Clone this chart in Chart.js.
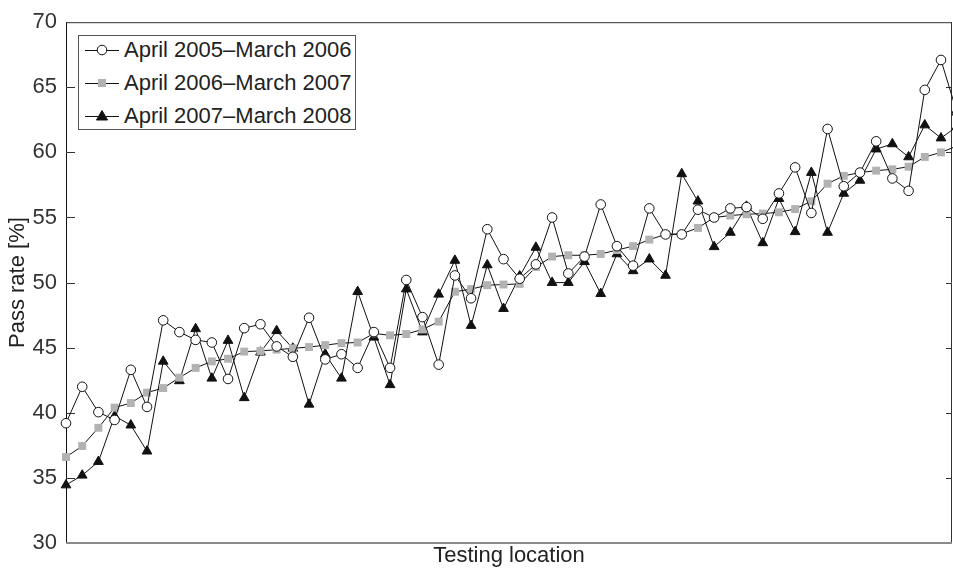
<!DOCTYPE html>
<html>
<head>
<meta charset="utf-8">
<title>Pass rate by testing location</title>
<script src="https://cdn.jsdelivr.net/npm/chart.js@4.4.1/dist/chart.umd.min.js"></script>
<style>
  html, body { margin: 0; padding: 0; background: #fff; overflow: hidden; }
  #wrap { position: relative; width: 953px; height: 569px; }
  #legend {
    position: absolute; left: 78px; top: 35px; width: 278px; height: 95px;
    box-sizing: border-box; border: 1px solid #555; background: #fff;
    font-family: 'Liberation Sans', Arial, sans-serif; font-size: 22px; color: #222;
  }
  #legend .row { position: absolute; left: 0; height: 26px; white-space: nowrap; }
  #legend svg { position: absolute; left: 6px; top: 6px; }
  #legend span { position: absolute; left: 45px; top: 1px; line-height: 24px; }
</style>
</head>
<body>
<div id="wrap">
  <canvas id="passRateChart" width="953" height="569"></canvas>
  <div id="legend"></div>
</div>
<script>
// testing locations along the x axis (index only, no labels are shown)
const locations = Array.from({ length: 56 }, (_, i) => i);

const seriesNames = [
  'April 2005\u2013March 2006',
  'April 2006\u2013March 2007',
  'April 2007\u2013March 2008'
];

// pass rate [%] per testing location
const passRate0506 = [39.2, 42.0, 40.05, 39.45, 43.3, 40.45, 47.1, 46.2, 45.6, 45.4, 42.6, 46.5, 46.8, 45.1,
  44.3, 47.3, 44.1, 44.5, 43.45, 46.2, 43.45, 50.2, 47.35, 43.7, 50.55, 48.8, 54.1, 51.8, 50.3, 51.4,
  55.0, 50.7, 52.0, 56.0, 52.8, 51.3, 55.7, 53.7, 53.7, 55.6, 55.0, 55.7, 55.8, 54.9, 56.85, 58.85,
  55.35, 61.8, 57.4, 58.45, 60.85, 58.0, 57.05, 64.8, 67.1, 63.0];

const passRate0607 = [36.6, 37.45, 38.85, 40.4, 40.75, 41.55, 41.9, 42.7, 43.45, 43.95, 44.15, 44.7, 44.75,
  44.85, 44.95, 45.05, 45.2, 45.35, 45.4, 46.1, 45.95, 46.05, 46.4, 47.0, 49.3, 49.5, 49.8, 49.85, 49.9,
  51.2, 52.0, 52.1, 52.1, 52.2, 52.5, 52.8, 53.3, 53.7, 53.75, 54.2, 55.0, 55.15, 55.25, 55.3, 55.4,
  55.65, 56.25, 57.6, 58.2, 58.45, 58.6, 58.7, 58.9, 59.65, 60.0, 60.5];

const passRate0708 = [34.45, 35.2, 36.25, 39.75, 39.05, 37.05, 43.95, 42.45, 46.45, 42.65, 45.55, 41.15,
  44.65, 46.3, 44.95, 40.65, 44.5, 42.65, 49.3, 45.8, 42.15, 49.5, 46.2, 49.1, 51.7, 46.7, 51.35, 48.0,
  50.5, 52.7, 50.0, 50.0, 51.6, 49.15, 52.2, 50.9, 51.8, 50.55, 58.35, 56.25, 52.75, 53.85, 55.85,
  53.05, 56.45, 53.9, 58.45, 53.85, 56.85, 57.85, 60.25, 60.65, 59.65, 62.1, 61.1, 62.0];

const yTicks = [30, 35, 40, 45, 50, 55, 60, 65, 70];

Chart.defaults.font.family = "'Liberation Sans', Arial, sans-serif";
Chart.defaults.font.size = 22;
Chart.defaults.color = '#333';

function toPoints(values) {
  return values.map((v, i) => ({ x: locations[i], y: v }));
}

// frame on top/right, grey base line and short inward ticks on both sides
const framePlugin = {
  id: 'frame',
  beforeDatasetsDraw(chart) {
    const { ctx, chartArea: a, scales: { y } } = chart;
    ctx.save();
    ctx.strokeStyle = '#333';
    ctx.lineWidth = 1;
    ctx.beginPath();
    ctx.moveTo(a.left, a.top + 0.5);
    ctx.lineTo(a.right, a.top + 0.5);
    ctx.moveTo(a.right - 0.5, a.top);
    ctx.lineTo(a.right - 0.5, a.bottom);
    yTicks.slice(1, -1).forEach(v => {
      const py = Math.round(y.getPixelForValue(v)) + 0.5;
      ctx.moveTo(a.left, py);
      ctx.lineTo(a.left + 9, py);
      ctx.moveTo(a.right - 6, py);
      ctx.lineTo(a.right, py);
    });
    ctx.stroke();
    ctx.strokeStyle = '#8a8a8a';
    ctx.lineWidth = 2;
    ctx.beginPath();
    ctx.moveTo(a.left, a.bottom);
    ctx.lineTo(a.right, a.bottom);
    ctx.stroke();
    ctx.restore();
  }
};

const lineBase = { borderColor: '#111', borderWidth: 1, tension: 0, clip: false, fill: false };

new Chart(document.getElementById('passRateChart'), {
  type: 'line',
  data: {
    datasets: [
      Object.assign({}, lineBase, {
        label: seriesNames[0], data: toPoints(passRate0506),
        pointStyle: 'circle', pointRadius: 4.8,
        pointBackgroundColor: '#fff', pointBorderColor: '#111', pointBorderWidth: 1
      }),
      Object.assign({}, lineBase, {
        label: seriesNames[1], data: toPoints(passRate0607),
        pointStyle: 'rect', pointRadius: 5.6,
        pointBackgroundColor: '#b2b2b2', pointBorderColor: '#b2b2b2', pointBorderWidth: 0
      }),
      Object.assign({}, lineBase, {
        label: seriesNames[2], data: toPoints(passRate0708),
        pointStyle: 'triangle', pointRadius: 5.6,
        pointBackgroundColor: '#111', pointBorderColor: '#111', pointBorderWidth: 1
      })
    ]
  },
  options: {
    responsive: false,
    animation: false,
    layout: { autoPadding: false, padding: { top: 22, right: 1, left: 0, bottom: 0 } },
    plugins: { legend: { display: false }, tooltip: { enabled: false } },
    scales: {
      x: {
        type: 'linear', min: 0, max: 54.68,
        grid: { display: false, drawTicks: false },
        border: { display: false },
        ticks: { display: false },
        title: { display: true, text: 'Testing location', padding: 0, color: '#222' },
        afterFit(scale) { scale.height = 26; }
      },
      y: {
        min: 30, max: 70,
        ticks: { stepSize: 5, padding: 9, color: '#333' },
        grid: { display: false, drawTicks: false },
        border: { display: true, color: '#111', width: 1 },
        title: { display: true, text: 'Pass rate [%]', padding: { top: 5, bottom: 4 }, color: '#222' },
        afterFit(scale) { scale.width = 66; }
      }
    }
  },
  plugins: [framePlugin]
});

// legend box: line with marker, then series name
const legendMarks = [
  '<circle cx="17" cy="7" r="4.8" fill="#fff" stroke="#111" stroke-width="1"/>',
  '<rect x="13" y="3" width="8" height="8" fill="#b2b2b2"/>',
  '<polygon points="17,1.5 22.5,11 11.5,11" fill="#111" stroke="#111" stroke-width="1"/>'
];
const legendEl = document.getElementById('legend');
seriesNames.forEach((name, i) => {
  const row = document.createElement('div');
  row.className = 'row';
  row.style.top = (1 + i * 33) + 'px';
  row.innerHTML = '<svg width="34" height="14"><line x1="0" y1="7.5" x2="34" y2="7.5" stroke="#111" stroke-width="1"/>' +
    legendMarks[i] + '</svg><span>' + name + '</span>';
  legendEl.appendChild(row);
});
</script>
</body>
</html>
